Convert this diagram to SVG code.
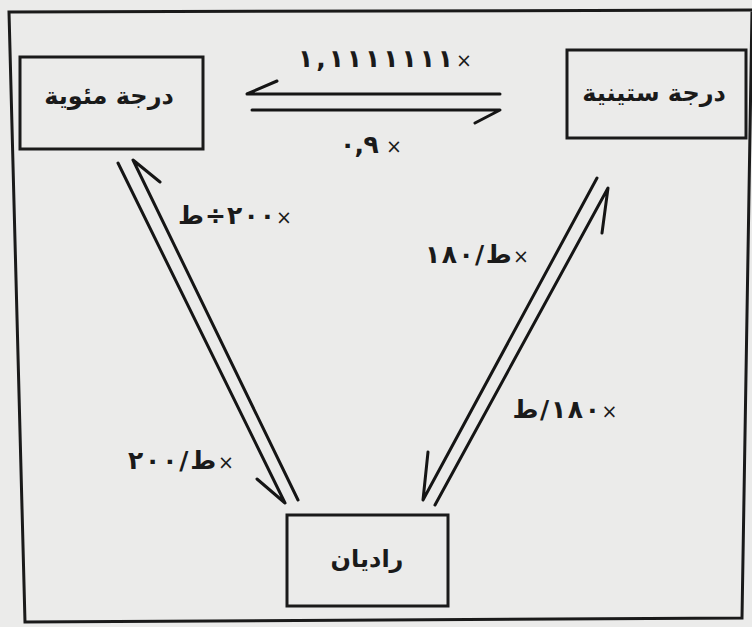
<svg xmlns="http://www.w3.org/2000/svg" width="752" height="627" viewBox="0 0 752 627">
<style>
.frame{fill:none;stroke:#1a1a1a;stroke-width:3;stroke-linejoin:miter}
.box{fill:none;stroke:#1a1a1a;stroke-width:3}
.conn{fill:none;stroke:#151515;stroke-width:3;stroke-linecap:round;stroke-linejoin:round}
.lbl{font-family:"DejaVu Sans",sans-serif;font-weight:bold;font-size:24px;fill:#1a1a1a;text-anchor:middle}
.num{font-family:"DejaVu Sans",sans-serif;font-weight:bold;font-size:25px;fill:#1a1a1a;text-anchor:middle}
.x{font-weight:normal;font-size:19px}
</style>
<rect x="0" y="0" width="752" height="627" fill="#ebebea"/>
<polygon class="frame" points="9,12 752,10 742,618 25,622"/>
<g id="celsius">
<rect class="box" x="20" y="57" width="183" height="92"/>
<text class="lbl" x="109" y="104" direction="rtl">درجة مئوية</text>
</g>
<g id="sexagesimal">
<rect class="box" x="567" y="50" width="179" height="88"/>
<text class="lbl" x="654" y="101" direction="rtl">درجة ستينية</text>
</g>
<g id="radian">
<rect class="box" x="287" y="515" width="161" height="91"/>
<text class="lbl" x="367" y="567" direction="rtl">راديان</text>
</g>
<g id="connectors">
<path class="conn" d="M500,94 L247,94 L277,81"/>
<path class="conn" d="M252,110 L500,110 L475,123"/>
<path class="conn" d="M118,163 L285,503 L257,479"/>
<path class="conn" d="M298,500 L133,160 L160,182"/>
<path class="conn" d="M597,178 L423,500 L428,452"/>
<path class="conn" d="M435,505 L608,188 L602,233"/>
<text class="num" x="385" y="67" direction="rtl" textLength="174" lengthAdjust="spacing"><tspan class="x">×</tspan>١,١١١١١١١</text>
<text class="num" x="371" y="153" direction="rtl" textLength="62" lengthAdjust="spacing"><tspan class="x">×</tspan> ٠,٩</text>
<text class="num" x="235" y="224" direction="rtl" textLength="114" lengthAdjust="spacing"><tspan class="x">×</tspan>٢٠٠÷ط</text>
<text class="num" x="181" y="469" direction="rtl" textLength="106" lengthAdjust="spacing"><tspan class="x">×</tspan>ط/٢٠٠</text>
<text class="num" x="477" y="263" direction="rtl" textLength="104" lengthAdjust="spacing"><tspan class="x">×</tspan>ط/١٨٠</text>
<text class="num" x="565" y="418" direction="rtl" textLength="105" lengthAdjust="spacing"><tspan class="x">×</tspan>١٨٠/ط</text>
</g>
</svg>
